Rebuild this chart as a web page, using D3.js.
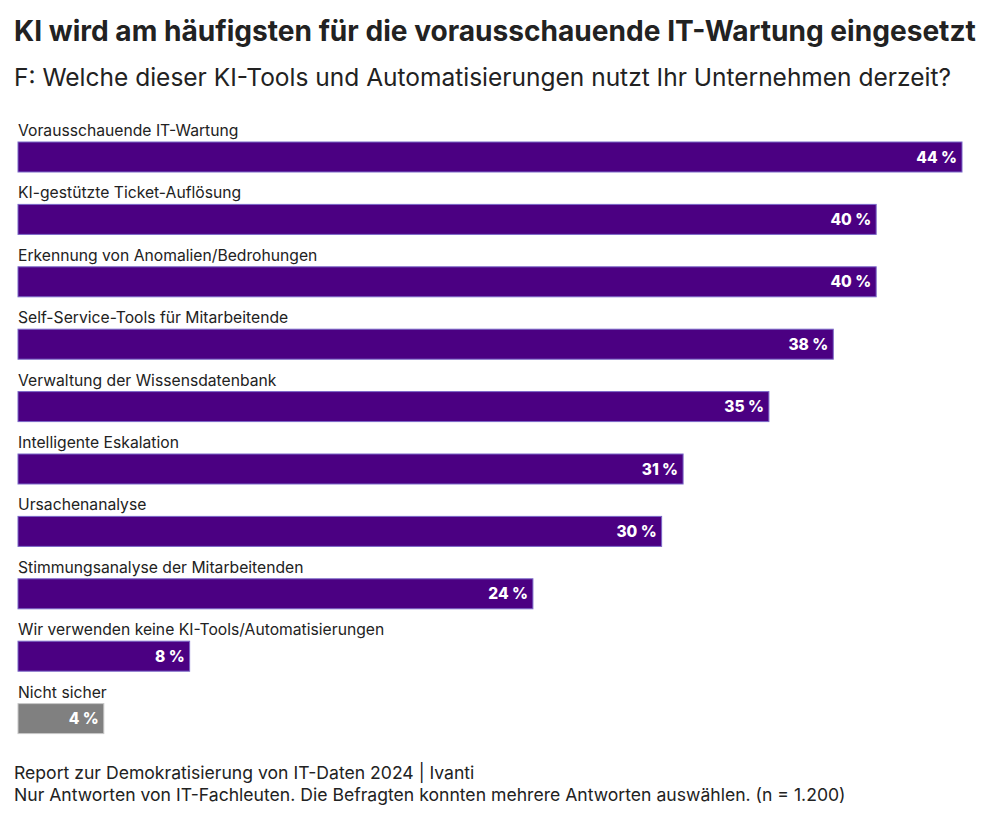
<!DOCTYPE html>
<html><head><meta charset="utf-8">
<script src="https://cdn.jsdelivr.net/npm/d3@7"></script>
<style>body{margin:0;background:#fff;font-family:Inter,"Noto Sans",sans-serif;}</style>
</head><body>
<svg id="c" width="1000" height="817"></svg>
<script>
const categories = ["Vorausschauende IT-Wartung","KI-gestützte Ticket-Auflösung","Erkennung von Anomalien/Bedrohungen","Self-Service-Tools für Mitarbeitende","Verwaltung der Wissensdatenbank","Intelligente Eskalation","Ursachenanalyse","Stimmungsanalyse der Mitarbeitenden","Wir verwenden keine KI-Tools/Automatisierungen","Nicht sicher"];
const values = [44,40,40,38,35,31,30,24,8,4];
const grayCategories = ["Nicht sicher"];
const title = "KI wird am häufigsten für die vorausschauende IT-Wartung eingesetzt";
const subtitle = "F: Welche dieser KI-Tools und Automatisierungen nutzt Ihr Unternehmen derzeit?";
const footer = ["Report zur Demokratisierung von IT-Daten 2024 | Ivanti","Nur Antworten von IT-Fachleuten. Die Befragten konnten mehrere Antworten auswählen. (n = 1.200)"];

const svg = d3.select("#c");
svg.append("text").attr("x",14).attr("y",41).attr("font-size",28.1).attr("font-weight",700).attr("fill","#222").text(title);
svg.append("text").attr("x",14).attr("y",86).attr("font-size",24.5).attr("fill","#222").text(subtitle);

const x = d3.scaleLinear().domain([0,44]).range([18,962]);
const y = d3.scaleBand().domain(categories).range([123,747]).paddingInner(0).paddingOuter(0);
const bh = 30;
const g = svg.append("g");
const rows = g.selectAll("g.row").data(categories).join("g").attr("class","row")
  .attr("transform",d=>`translate(0,${y(d)})`);
rows.append("text").attr("x",18).attr("y",13).attr("font-size",15.7).attr("fill","#222").text(d=>d);
rows.append("rect").attr("x",x(0)).attr("y",19).attr("height",bh)
  .attr("width",(d,i)=>x(values[i])-x(0))
  .attr("fill",d=>grayCategories.includes(d)?"#808080":"#4b0082")
  .attr("stroke",d=>grayCategories.includes(d)?"#c8c8c8":"#7b68c8").attr("stroke-width",1);
rows.append("text").attr("x",(d,i)=>x(values[i])-5).attr("y",19+bh/2+5.5)
  .attr("text-anchor","end").attr("font-size",15.5).attr("font-weight",800).attr("fill","#fff")
  .text((d,i)=>values[i]+" %");

footer.forEach((t,i)=>svg.append("text").attr("x",14).attr("y",779+i*22).attr("font-size",17.6).attr("fill","#222").text(t));
</script>
</body></html>
